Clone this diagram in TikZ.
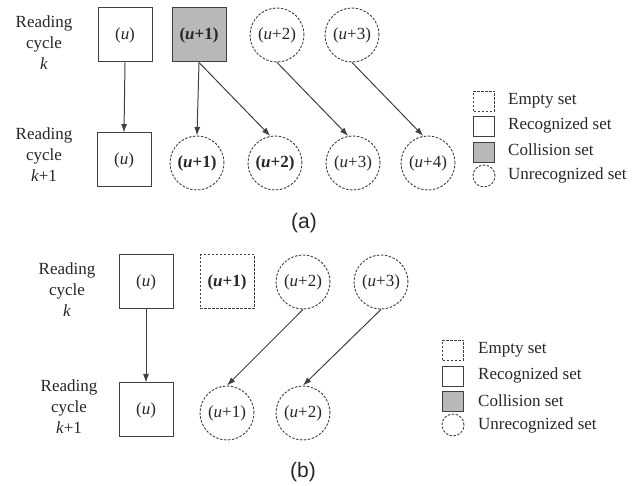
\documentclass[tikz,border=0pt]{standalone}
\usepackage{fontspec}
\setmainfont{Liberation Serif}
\newfontfamily\capfont{Liberation Sans}
\usetikzlibrary{arrows.meta}
\definecolor{ln}{HTML}{404040}
\definecolor{coll}{HTML}{B8B8B8}
\tikzset{
  every node/.style={font=\fontsize{17}{20}\selectfont, text=black!85},
  sq/.style={draw=ln, line width=1pt, minimum width=54pt, minimum height=54pt, inner sep=0pt},
  recog/.style={sq},
  colls/.style={sq, fill=coll},
  emptys/.style={sq, dash pattern=on 2.5pt off 1.5pt},
  unrec/.style={circle, draw=ln, line width=0.9pt, dash pattern=on 2.5pt off 1.5pt, minimum size=54pt, inner sep=0pt},
  lab/.style={align=center, font=\fontsize{17}{21}\selectfont},
  arr/.style={draw=ln, line width=1pt, -{Latex[length=8.5pt,width=6pt]}},
  lgsq/.style={draw=ln, line width=0.9pt, minimum width=21pt, minimum height=20pt, inner sep=0pt},
  lgtxt/.style={anchor=west, inner sep=0pt},
  captxt/.style={font=\capfont\fontsize{21}{24}\selectfont}
}
\begin{document}
\begin{tikzpicture}[x=1pt, y=-1pt]
\useasboundingbox (0,0) rectangle (641,486);
% ---------- (a) ----------
\node[lab] (lka) at (44,43) {Reading\\cycle\\\textit{k}};
\node[lab] (lkb) at (44,155) {Reading\\cycle\\\textit{k}+1};
\node[recog] (a0) at (125,35) {(\textit{u})};
\node[colls] (a1) at (199,35) {\textbf{(\textit{u}+1)}};
\node[unrec] (a2) at (277,35) {(\textit{u}+2)};
\node[unrec] (a3) at (352,35) {(\textit{u}+3)};
\node[recog] (b0) at (124,160) {(\textit{u})};
\node[unrec] (b1) at (197,163) {\textbf{(\textit{u}+1)}};
\node[unrec] (b2) at (275,163) {\textbf{(\textit{u}+2)}};
\node[unrec] (b3) at (353,163) {(\textit{u}+3)};
\node[unrec] (b4) at (428,163) {(\textit{u}+4)};
\draw[arr] (a0.south) -- (b0.north);
\draw[arr] (a1.south) -- (b1.north);
\draw[arr] (a1.south) -- (b2.100);
\draw[arr] (a2.south) -- (b3.100);
\draw[arr] (a3.south) -- (b4.100);
% legend (a)
\node[lgsq, dash pattern=on 2.5pt off 1.5pt] (la1) at (484,101) {};
\node[lgsq] (la2) at (484,126) {};
\node[lgsq, fill=coll] (la3) at (484,152) {};
\node[circle, draw=ln, line width=0.9pt, dash pattern=on 2.5pt off 1.5pt, minimum size=22pt, inner sep=0pt] (la4) at (484,176) {};
\node[lgtxt] (ta1) at (508,101) {Empty set};
\node[lgtxt] (ta2) at (508,125) {Recognized set};
\node[lgtxt] (ta3) at (508,150) {Collision set};
\node[lgtxt] (ta4) at (508,175) {Unrecognized set};
\node[captxt] (capa) at (304,223) {(a)};
% ---------- (b) ----------
\node[lab] (lkc) at (67,290) {Reading\\cycle\\\textit{k}};
\node[lab] (lkd) at (69,407) {Reading\\cycle\\\textit{k}+1};
\node[recog] (c0) at (146,282) {(\textit{u})};
\node[emptys] (c1) at (227,282) {\textbf{(\textit{u}+1)}};
\node[unrec] (c2) at (303,282) {(\textit{u}+2)};
\node[unrec] (c3) at (381,282) {(\textit{u}+3)};
\node[recog] (d0) at (146,410) {(\textit{u})};
\node[unrec] (d1) at (227,413) {(\textit{u}+1)};
\node[unrec] (d2) at (303,413) {(\textit{u}+2)};
\draw[arr] (c0.south) -- (d0.north);
\draw[arr] (c2.south) -- (d1.north);
\draw[arr] (c3.south) -- (d2.north);
% legend (b)
\node[lgsq, dash pattern=on 2.5pt off 1.5pt] (lb1) at (453,350) {};
\node[lgsq] (lb2) at (453,376) {};
\node[lgsq, fill=coll] (lb3) at (453,401) {};
\node[circle, draw=ln, line width=0.9pt, dash pattern=on 2.5pt off 1.5pt, minimum size=22pt, inner sep=0pt] (lb4) at (453,425) {};
\node[lgtxt] (tb1) at (478,350) {Empty set};
\node[lgtxt] (tb2) at (478,375) {Recognized set};
\node[lgtxt] (tb3) at (478,401) {Collision set};
\node[lgtxt] (tb4) at (478,425) {Unrecognized set};
\node[captxt] (capb) at (303,472) {(b)};
\end{tikzpicture}
\end{document}
